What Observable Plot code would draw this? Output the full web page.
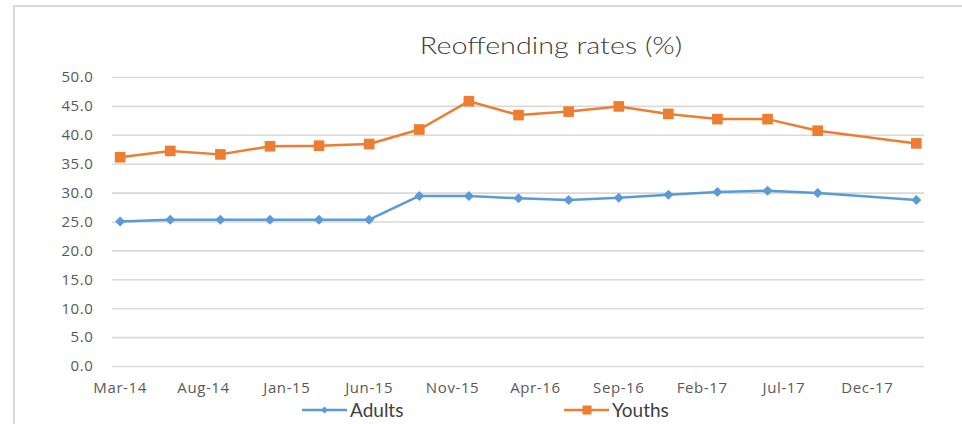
<!DOCTYPE html>
<html>
<head>
<meta charset="utf-8">
<script src="https://cdn.jsdelivr.net/npm/d3@7"></script>
<script src="https://cdn.jsdelivr.net/npm/@observablehq/plot@0.6"></script>
<style>
  body { margin: 0; background: #fff; position: relative; width: 962px; height: 424px; overflow: hidden; }
  #frame { position: absolute; left: 13px; top: 5px; width: 1000px; height: 500px; border-left: 2px solid #d9d9d9; border-top: 2px solid #d9d9d9; }
  #title { position: absolute; left: 551px; top: 34px; transform: translateX(-50%) scaleX(1.25); font-family: Lato, sans-serif; font-weight: 300; font-size: 23px; color: #404040; white-space: nowrap; line-height: 1; }
  #chart { position: absolute; left: 0; top: 62px; }
  .leg { position: absolute; top: 400px; display: flex; align-items: center; font-family: Lato, sans-serif; font-size: 19px; color: #404040; line-height: 1; }
  .leg svg { display: block; margin-right: 2px; }
</style>
</head>
<body>
<div id="frame"></div>
<div id="title">Reoffending rates (%)</div>
<div id="chart"></div>
<div class="leg" id="legA" style="left:302px"></div>
<div class="leg" id="legY" style="left:564px"></div>
<script>
const periods = ["Mar-14","Jun-14","Sep-14","Dec-14","Mar-15","Jun-15","Sep-15","Dec-15","Mar-16","Jun-16","Sep-16","Dec-16","Mar-17","Jun-17","Sep-17","Mar-18"];
const adults = [25.1, 25.4, 25.4, 25.4, 25.4, 25.4, 29.5, 29.5, 29.1, 28.8, 29.2, 29.7, 30.2, 30.4, 30.0, 28.8];
const youths = [36.2, 37.3, 36.7, 38.1, 38.2, 38.5, 41.0, 45.9, 43.5, 44.1, 45.0, 43.7, 42.8, 42.8, 40.8, 38.6];
const xTickLabels = ["Mar-14","Aug-14","Jan-15","Jun-15","Nov-15","Apr-16","Sep-16","Feb-17","Jul-17","Dec-17"];
const yTicks = [0, 5, 10, 15, 20, 25, 30, 35, 40, 45, 50];
const seriesNames = ["Adults", "Youths"];
const seriesColors = ["#5B9BD5", "#ED7D31"];

const parse = d3.utcParse("%b-%y");
const fmt = d3.utcFormat("%b-%y");
const rows = [];
periods.forEach((p, i) => {
  rows.push({date: parse(p), value: adults[i], series: "Adults"});
  rows.push({date: parse(p), value: youths[i], series: "Youths"});
});
const first = parse(periods[0]), last = parse(periods[periods.length - 1]);
const x0 = d3.utcDay.offset(first, -14), x1 = d3.utcDay.offset(last, 15);

const rhombus = { draw(ctx, size) { const h = Math.sqrt(size / 2); ctx.moveTo(0, -h); ctx.lineTo(h, 0); ctx.lineTo(0, h); ctx.lineTo(-h, 0); ctx.closePath(); } };

const chart = Plot.plot({
  width: 962,
  height: 338,
  marginTop: 15,
  marginBottom: 34,
  marginLeft: 112,
  marginRight: 38,
  style: { fontFamily: "'Open Sans', sans-serif", fontSize: "15px", color: "#595959", letterSpacing: "0.6px", background: "transparent" },
  x: { type: "utc", domain: [x0, x1] },
  y: { domain: [0, 50] },
  color: { domain: seriesNames, range: seriesColors },
  marks: [
    Plot.ruleY(yTicks, { stroke: "#d9d9d9", strokeWidth: 1.6 }),
    Plot.axisY(yTicks, { tickSize: 0, tickPadding: 19, tickFormat: d3.format(".1f"), label: null }),
    Plot.axisX(xTickLabels.map(parse), { tickSize: 0, tickPadding: 16, tickFormat: fmt, label: null }),
    Plot.line(rows, { x: "date", y: "value", z: "series", stroke: "series", strokeWidth: 2.5 }),
    Plot.dot(rows.filter(d => d.series === "Adults"), { x: "date", y: "value", fill: "series", symbol: rhombus, r: 4 }),
    Plot.dot(rows.filter(d => d.series === "Youths"), { x: "date", y: "value", fill: "series", symbol: "square", r: 6 })
  ]
});
document.getElementById("chart").appendChild(chart);

function swatch(color, kind) {
  const ns = "http://www.w3.org/2000/svg";
  const s = document.createElementNS(ns, "svg");
  s.setAttribute("width", 46); s.setAttribute("height", 14);
  const l = document.createElementNS(ns, "line");
  l.setAttribute("x1", 0); l.setAttribute("x2", 45); l.setAttribute("y1", 7); l.setAttribute("y2", 7);
  l.setAttribute("stroke", color); l.setAttribute("stroke-width", 2.5);
  s.appendChild(l);
  if (kind === "d") {
    const p = document.createElementNS(ns, "path");
    p.setAttribute("d", "M22.5,3.5L26,7L22.5,10.5L19,7Z"); p.setAttribute("fill", color);
    s.appendChild(p);
  } else {
    const r = document.createElementNS(ns, "rect");
    r.setAttribute("x", 18.5); r.setAttribute("y", 2.5); r.setAttribute("width", 9); r.setAttribute("height", 9); r.setAttribute("fill", color);
    s.appendChild(r);
  }
  return s;
}
const la = document.getElementById("legA");
la.appendChild(swatch(seriesColors[0], "d")); la.appendChild(document.createTextNode(seriesNames[0]));
const ly = document.getElementById("legY");
ly.appendChild(swatch(seriesColors[1], "s")); ly.appendChild(document.createTextNode(seriesNames[1]));
</script>
</body>
</html>
